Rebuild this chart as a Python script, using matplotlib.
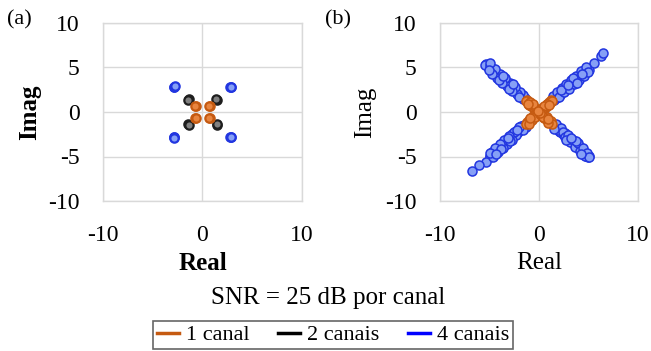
import matplotlib
matplotlib.use("Agg")
import matplotlib.pyplot as plt
from matplotlib.lines import Line2D

plt.rcParams['font.family'] = ['Liberation Serif', 'DejaVu Serif']
plt.rcParams['axes.unicode_minus'] = False

# (a) constellation, low noise
a1_x = [0.72, 0.68, -0.70, -0.73, 0.71, 0.69, -0.72, -0.68]
a1_y = [0.70, 0.73, 0.71, 0.68, -0.72, -0.69, -0.70, -0.73]
a2_x = [1.42, 1.39, -1.40, -1.43, 1.41, 1.44, -1.42, -1.39]
a2_y = [1.40, 1.43, 1.42, 1.39, -1.41, -1.38, -1.40, -1.43]
a4_x = [2.85, 2.80, 2.88, -2.83, -2.86, -2.80, 2.84, 2.81, 2.87, -2.85, -2.82, -2.88]
a4_y = [2.82, 2.86, 2.79, 2.84, 2.80, 2.87, -2.83, -2.86, -2.80, -2.84, -2.81, -2.87]

# (b) constellation, spread along the diagonals
b4_x = [-1.4, -1.6, -1.8, -2.0, -2.1, -2.3, -2.5, -2.6, -2.8, -3.0, -3.1, -3.3, -3.5, -3.6, -3.8,
        -4.0, -4.1, -4.3, -4.5, -4.6, -4.8, -5.0, -5.2, -5.4, -5.5, -4.9, -3.9, -2.2, -1.7, -2.9,
        -1.6, -1.9, -2.2, -2.4, -2.7, -2.9, -3.2, -3.4, -3.7, -3.9, -4.2, -4.4, -4.7, -4.9, -5.1,
        -2.0, -3.0, -4.0, -2.6, -3.6,
        1.5, 1.7, 1.9, 2.1, 2.3, 2.4, 2.6, 2.8, 3.0, 3.1, 3.3, 3.5, 3.6, 3.8, 4.0,
        4.1, 4.3, 4.5, 4.6, 4.8, 4.9, 5.0, 5.6, 6.3, 6.5, 2.0, 2.7, 3.9, 4.4, 1.8,
        1.4, 1.8, 2.0, 2.3, 2.5, 2.7, 3.0, 3.2, 3.5, 3.7, 4.0, 4.2, 4.5, 4.7, 4.9,
        2.2, 3.4, 4.3, 2.9, 3.8,
        -1.5, -1.7, -1.9, -2.1, -2.3, -2.5, -2.7, -2.8, -3.0, -3.2, -3.4, -3.5, -3.7, -3.9, -4.0,
        -4.2, -4.4, -4.5, -4.7, -4.9, -5.0, -5.4, -6.1, -6.8, -2.2, -3.3, -4.3, -1.8, -2.6, -4.6,
        -1.3, -1.6, -2.0, -2.3, -2.5, -2.7, -3.0, -3.2, -3.5, -3.6, -3.9, -4.1, -4.4, -4.6, -4.9,
        -2.2, -2.9, -3.8, -4.3, -3.1,
        1.4, 1.6, 1.8, 2.0, 2.2, 2.4, 2.6, 2.8, 3.0, 3.1, 3.3, 3.5, 3.6, 3.8, 4.0,
        4.1, 4.3, 4.5, 4.6, 4.8, 4.9, 5.0, 2.1, 2.9, 3.9, 4.4, 1.7, 3.4, 4.7, 2.5,
        1.7, 1.9, 2.2, 2.4, 2.6, 2.9, 3.1, 3.4, 3.6, 3.9, 4.1, 4.4, 4.6, 4.8, 5.0,
        1.5, 2.7, 3.7, 4.2, 3.2]
b4_y = [1.6, 1.5, 1.9, 2.1, 1.9, 2.4, 2.5, 2.8, 2.7, 3.1, 3.3, 3.2, 3.6, 3.4, 3.9,
        4.1, 3.9, 4.4, 4.5, 4.8, 4.7, 5.1, 5.0, 5.4, 5.3, 5.2, 3.7, 2.3, 1.8, 3.0,
        1.9, 2.3, 2.0, 2.8, 2.4, 3.3, 2.9, 3.8, 3.3, 4.3, 3.8, 4.8, 4.3, 5.5, 4.7,
        1.7, 2.6, 3.6, 3.1, 4.0,
        1.4, 1.6, 2.0, 1.9, 2.2, 2.6, 2.5, 2.9, 2.8, 3.2, 3.1, 3.5, 3.7, 3.6, 4.0,
        4.2, 4.1, 4.5, 4.4, 4.8, 4.9, 4.7, 5.5, 6.3, 6.6, 2.2, 2.6, 3.8, 4.6, 1.7,
        1.8, 2.3, 1.7, 2.7, 2.2, 3.2, 2.6, 3.6, 3.1, 4.1, 3.6, 4.6, 4.1, 5.0, 4.5,
        2.5, 3.8, 4.3, 3.0, 3.3,
        -1.5, -1.8, -1.7, -2.2, -2.1, -2.6, -2.5, -2.9, -3.1, -3.0, -3.4, -3.6, -3.5, -3.9, -4.1,
        -4.0, -4.4, -4.6, -4.5, -4.9, -5.1, -5.6, -6.0, -6.6, -2.4, -3.2, -4.2, -1.6, -2.7, -4.8,
        -1.7, -2.0, -1.7, -2.6, -2.2, -3.1, -2.7, -3.6, -3.1, -4.0, -3.6, -4.5, -4.0, -5.0, -4.6,
        -2.0, -3.3, -4.2, -4.7, -2.9,
        -1.4, -1.7, -1.6, -2.1, -2.0, -2.5, -2.4, -2.9, -2.8, -3.2, -3.3, -3.4, -3.7, -3.6, -4.1,
        -3.9, -4.3, -4.5, -4.7, -4.8, -5.0, -4.9, -2.3, -3.0, -4.0, -4.6, -1.8, -3.5, -4.9, -2.6,
        -1.4, -2.0, -1.8, -2.3, -2.8, -2.6, -3.4, -3.1, -3.9, -3.5, -4.4, -4.1, -4.9, -4.6, -5.1,
        -1.9, -3.1, -3.3, -4.7, -2.9]
b1_x = [-0.2, -0.4, -0.5, -0.6, -0.7, -0.8, -0.9, -1.0, -1.1, -1.2, -1.3, -0.95, -0.6, -1.1,
        0.2, 0.3, 0.5, 0.6, 0.7, 0.8, 0.9, 1.0, 1.1, 1.2, 1.3, 0.85, 0.5, 1.0,
        -0.2, -0.3, -0.5, -0.6, -0.8, -0.9, -1.0, -1.1, -1.2, -1.3, -0.7, -1.05, -0.4, -0.9,
        0.1, 0.3, 0.4, 0.6, 0.7, 0.8, 1.0, 1.1, 1.2, 1.3, 0.9, 0.55, 0.4, 0.95,
        0.0, 0.1, -0.1]
b1_y = [0.2, 0.5, 0.3, 0.6, 0.8, 0.7, 1.0, 0.8, 1.1, 1.3, 1.2, 1.15, 0.9, 0.9,
        0.1, 0.4, 0.4, 0.7, 0.6, 0.9, 0.8, 1.1, 1.0, 1.3, 1.2, 0.95, 0.7, 0.8,
        -0.3, -0.2, -0.6, -0.5, -0.7, -1.0, -0.9, -1.2, -1.1, -1.4, -0.9, -1.3, -0.6, -0.7,
        -0.2, -0.4, -0.2, -0.5, -0.8, -0.6, -0.9, -1.1, -1.0, -1.3, -1.2, -0.7, -0.6, -0.75,
        0.0, -0.1, 0.1]

ticks_x = [-10, 0, 10]
ticks_y = [-10, -5, 0, 5, 10]

orange_edge, orange_face = '#c55a11', '#e8853f'
black_edge, black_face = '#1e1e1e', '#808080'
blue_edge, blue_face = '#2236e0', '#86a0f6'
grid_col = '#d9d9d9'

fig = plt.figure(figsize=(6.51, 3.51), dpi=100)


def setup(ax):
    ax.set_xlim(-10, 10)
    ax.set_ylim(-10, 10)
    ax.set_xticks(ticks_x)
    ax.set_yticks(ticks_y)
    ax.grid(True, color=grid_col, linewidth=1)
    ax.set_axisbelow(True)
    for s in ax.spines.values():
        s.set_color(grid_col)
        s.set_linewidth(1)
    ax.tick_params(length=0, labelsize=17, pad=17)


ax1 = fig.add_axes([103 / 651, 150 / 351, 199 / 651, 178 / 351])
setup(ax1)
ax1.plot(a4_x, a4_y, 'o', ms=6, mfc=blue_face, mec=blue_edge, mew=1.6, zorder=3)
ax1.plot(a2_x, a2_y, 'o', ms=6, mfc=black_face, mec=black_edge, mew=1.6, zorder=3)
ax1.plot(a1_x, a1_y, 'o', ms=6, mfc=orange_face, mec=orange_edge, mew=1.6, zorder=3)

ax2 = fig.add_axes([440 / 651, 150 / 351, 198 / 651, 178 / 351])
setup(ax2)
ax2.plot(b4_x, b4_y, 'o', ms=6.5, mfc=blue_face, mec=blue_edge, mew=1.1, zorder=3)
ax2.plot(b1_x, b1_y, 'o', ms=6.5, mfc=orange_face, mec=orange_edge, mew=1.1, zorder=4)

fig.text(7 / 651, 1 - 20 / 351, '(a)', fontsize=16, va='center', ha='left')
fig.text(325 / 651, 1 - 20 / 351, '(b)', fontsize=16, va='center', ha='left')
fig.text(30 / 651, 1 - 112 / 351, 'Imag', fontsize=18, fontweight='bold', rotation=90,
         va='center', ha='center')
fig.text(365 / 651, 1 - 112 / 351, 'Imag', fontsize=18, rotation=90, va='center', ha='center')
fig.text(203 / 651, 1 - 263 / 351, 'Real', fontsize=18, fontweight='bold', va='center', ha='center')
fig.text(539 / 651, 1 - 263 / 351, 'Real', fontsize=18, va='center', ha='center')
fig.text(328 / 651, 1 - 298 / 351, 'SNR = 25 dB por canal', fontsize=18, va='center', ha='center')

handles = [Line2D([], [], color=orange_edge, lw=2.5),
           Line2D([], [], color='black', lw=2.5),
           Line2D([], [], color='#0000ff', lw=2.5)]
leg = fig.legend(handles, ['1 canal', '2 canais', '4 canais'], loc='center',
                 bbox_to_anchor=(333 / 651, 1 - 335 / 351), ncol=3, fontsize=16,
                 frameon=True, fancybox=False, handlelength=1.0, handletextpad=0.3,
                 columnspacing=1.3, borderpad=0.15, borderaxespad=0)
leg.get_frame().set_edgecolor('#404040')
leg.get_frame().set_linewidth(1.2)

fig.savefig('out.png', dpi=100)
